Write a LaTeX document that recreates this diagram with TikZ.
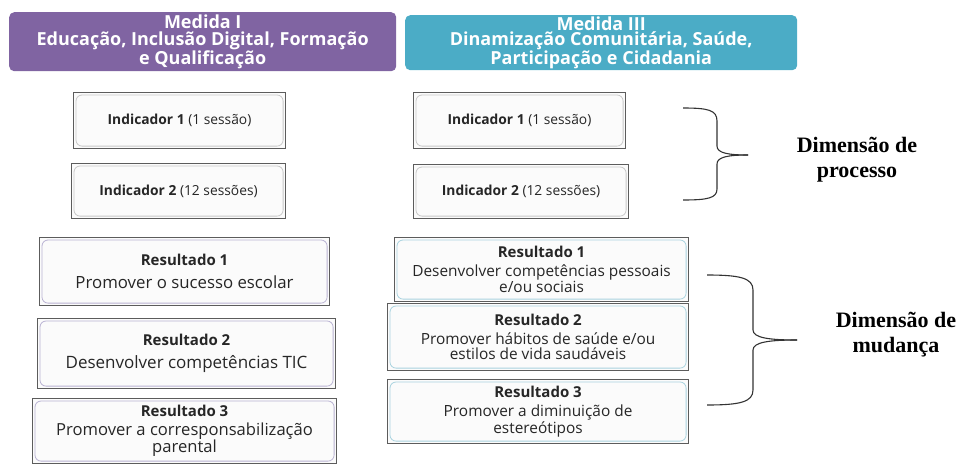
\documentclass[tikz,border=0pt]{standalone}
\usepackage{fontspec}
\setmainfont{Open Sans}
\newfontfamily\dimfont{Liberation Serif}
\definecolor{medpurple}{HTML}{8064A2}
\definecolor{medteal}{HTML}{4BACC6}
\definecolor{boxedge}{HTML}{5C5C5C}
\definecolor{boxfill}{HTML}{FBFBFB}
\definecolor{rimgray}{HTML}{C8C8C8}
\definecolor{rimpurple}{HTML}{B9B2D3}
\definecolor{rimteal}{HTML}{A9D3DF}
\begin{document}
\begin{tikzpicture}[
    x=1pt, y=-1pt,
    hdr/.style={
        rounded corners=5pt, anchor=north west,
        text=white, align=center, inner sep=0pt,
        font=\fontsize{18}{14}\selectfont\bfseries
    },
    card/.style={
        draw=boxedge, line width=1.1pt, fill=boxfill,
        anchor=north west, align=center, inner sep=0pt,
        text=black!85
    },
    rim/.style={draw=#1, line width=0.8pt, rounded corners=6pt},
    dimbrace/.style={draw=black!80, line width=1.1pt},
    dimtxt/.style={font=\dimfont\fontsize{22}{25}\selectfont\bfseries, align=center}
]
\useasboundingbox (0,0) rectangle (956,464);

%% ── Hlavičky opatrení ────────────────────────────────────────────
\node[hdr, fill=medpurple, minimum width=387, minimum height=59] (m1) at (9,12)
    {Medida I\\[3pt]Educação, Inclusão Digital, Formação\\e Qualificação};
\node[hdr, fill=medteal, minimum width=392, minimum height=55] (m3) at (405,15)
    {Medida III\\[1pt]Dinamização Comunitária, Saúde,\\Participação e Cidadania};

%% ── Indikátory (Medida I) ────────────────────────────────────────
\node[card, minimum width=212, minimum height=56, font=\fontsize{13.8}{15}\selectfont] (i11) at (73,92)
    {\textbf{Indicador 1} (1 sessão)};
\node[card, minimum width=214, minimum height=55, font=\fontsize{13.8}{15}\selectfont] (i12) at (71,163)
    {\textbf{Indicador 2} (12 sessões)};

%% ── Indikátory (Medida III) ──────────────────────────────────────
\node[card, minimum width=212, minimum height=56, font=\fontsize{13.8}{15}\selectfont] (i31) at (413,92)
    {\textbf{Indicador 1} (1 sessão)};
\node[card, minimum width=215, minimum height=54, font=\fontsize{13.8}{15}\selectfont] (i32) at (413,164)
    {\textbf{Indicador 2} (12 sessões)};

%% ── Výsledky (Medida I) ──────────────────────────────────────────
\node[card, minimum width=290, minimum height=68, font=\fontsize{16.8}{17}\selectfont] (r11) at (39,237)
    {{\fontsize{15}{16}\selectfont\bfseries Resultado 1}\\[6pt]Promover o sucesso escolar};
\node[card, minimum width=298, minimum height=70, font=\fontsize{17}{17}\selectfont] (r12) at (37,318)
    {{\fontsize{15}{16}\selectfont\bfseries Resultado 2}\\[6pt]Desenvolver competências TIC};
\node[card, minimum width=304, minimum height=65, font=\fontsize{16.6}{15.5}\selectfont] (r13) at (32,398)
    {{\fontsize{15}{15}\selectfont\bfseries Resultado 3}\\[3pt]Promover a corresponsabilização\\parental};

%% ── Výsledky (Medida III) ────────────────────────────────────────
\node[card, minimum width=294, minimum height=64, font=\fontsize{15.4}{15}\selectfont] (r31) at (394,237)
    {{\fontsize{15}{15}\selectfont\bfseries Resultado 1}\\[4pt]Desenvolver competências pessoais\\e/ou sociais};
\node[card, minimum width=301, minimum height=67, font=\fontsize{15.4}{15}\selectfont] (r32) at (387,303)
    {{\fontsize{15}{15}\selectfont\bfseries Resultado 2}\\[4pt]Promover hábitos de saúde e/ou\\estilos de vida saudáveis};
\node[card, minimum width=301, minimum height=64, font=\fontsize{15.4}{15}\selectfont] (r33) at (387,379)
    {{\fontsize{15}{15}\selectfont\bfseries Resultado 3}\\[4pt]Promover a diminuição de\\estereótipos};

%% ── Vnútorné rámčeky ─────────────────────────────────────────────
\foreach \n/\c in {i11/rimgray, i12/rimgray, i31/rimgray, i32/rimgray,
                   r11/rimpurple, r12/rimpurple, r13/rimpurple,
                   r31/rimteal, r32/rimteal, r33/rimteal}
    \draw[rim=\c] ([shift={(3,-3)}]\n.south west) rectangle ([shift={(-3,3)}]\n.north east);

%% ── Zátvorky a dimenzie ──────────────────────────────────────────
\coordinate (b1) at (748,155);
\draw[dimbrace] (683,108) .. controls (708,108) and (717,110) .. (717,121) -- (717,146)
    .. controls (717,153) and (728,155) .. (b1);
\draw[dimbrace] (683,200) .. controls (708,200) and (717,198) .. (717,189) -- (717,164)
    .. controls (717,157) and (728,155) .. (b1);
\node[dimtxt] (d1) at (857,160) {Dimensão de\\processo};

\coordinate (b2) at (797,340);
\draw[dimbrace] (707,275) .. controls (740,275) and (753,278) .. (753,290) -- (753,330)
    .. controls (753,338) and (770,340) .. (b2);
\draw[dimbrace] (707,405) .. controls (740,405) and (753,402) .. (753,390) -- (753,350)
    .. controls (753,342) and (770,340) .. (b2);
\node[dimtxt] (d2) at (896,335) {Dimensão de\\mudança};

\end{tikzpicture}
\end{document}
